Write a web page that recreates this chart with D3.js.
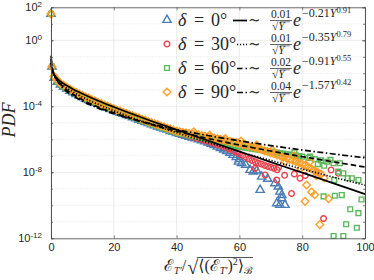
<!DOCTYPE html>
<html>
<head>
<meta charset="utf-8">
<script src="https://cdn.jsdelivr.net/npm/d3@7"></script>
<style>
body { margin: 0; background: #fff; }
svg text { fill: #262626; }
</style>
</head>
<body>
<svg id="chart" width="374" height="280"></svg>
<script>
// ---- data (PDF values stored as log10) ----
var xTicks = [0, 20, 40, 60, 80, 100];
var yTicks = [-12, -8, -4, 0, 2];
var angles = ["0°", "30°", "60°", "90°"];
var fitNum = ["0.01", "0.01", "0.02", "0.04"];
var fitB = ["−0.21", "−0.35", "−0.91", "−1.57"];
var fitC = ["0.91", "0.79", "0.55", "0.42"];

var fitX = [0.05, 0.2, 0.5, 1, 2, 3, 5, 7, 10, 15, 20, 30, 40, 50, 60, 70, 80, 90, 100];
var fit0 = [-1.36, -1.67, -1.90, -2.09, -2.32, -2.49, -2.74, -2.96, -3.24, -3.66, -4.04, -4.75, -5.42, -6.08, -6.74, -7.38, -8.02, -8.67, -9.32];
var fit30 = [-1.36, -1.69, -1.94, -2.15, -2.41, -2.60, -2.89, -3.13, -3.44, -3.88, -4.27, -4.97, -5.60, -6.19, -6.75, -7.28, -7.80, -8.30, -8.78];
var fit60 = [-1.13, -1.51, -1.82, -2.09, -2.43, -2.66, -3.01, -3.27, -3.60, -4.04, -4.40, -5.00, -5.51, -5.95, -6.35, -6.71, -7.05, -7.37, -7.68];
var fit90 = [-0.94, -1.40, -1.76, -2.08, -2.46, -2.72, -3.09, -3.36, -3.69, -4.11, -4.45, -4.98, -5.41, -5.77, -6.09, -6.38, -6.65, -6.89, -7.12];

var bandX = [0, 0.3, 1, 2, 3, 4, 5, 6, 7, 8, 9, 10, 11, 12, 13, 14, 15, 16, 17, 18, 19, 20,
  21, 22, 23, 24, 25, 26, 27, 28, 29, 30, 31, 32, 33, 34, 35, 36, 37, 38, 39, 40];
var blueBand = [1.6, -1.6, -2.28, -2.52, -2.69, -2.83, -2.94, -3.06, -3.16, -3.27, -3.35, -3.45,
  -3.53, -3.62, -3.70, -3.79, -3.86, -3.95, -4.02, -4.10, -4.17, -4.25, -4.31, -4.39, -4.46, -4.54,
  -4.60, -4.68, -4.74, -4.82, -4.88, -4.96, -5.02, -5.10, -5.15, -5.23, -5.29, -5.36, -5.42, -5.50, -5.55, -5.63];
var redBand = [1.6, -1.6, -2.23, -2.46, -2.63, -2.76, -2.88, -2.99, -3.10, -3.20, -3.29, -3.38,
  -3.47, -3.55, -3.64, -3.72, -3.80, -3.88, -3.96, -4.03, -4.11, -4.18, -4.25, -4.32, -4.40, -4.47,
  -4.54, -4.61, -4.68, -4.75, -4.82, -4.89, -4.96, -5.03, -5.09, -5.16, -5.23, -5.29, -5.36, -5.43, -5.49, -5.56];
var greenBand = [1.6, -1.6, -2.26, -2.49, -2.66, -2.79, -2.91, -3.02, -3.13, -3.23, -3.32, -3.41,
  -3.50, -3.58, -3.67, -3.75, -3.83, -3.91, -3.99, -4.06, -4.14, -4.21, -4.28, -4.35, -4.43, -4.50,
  -4.57, -4.64, -4.71, -4.78, -4.85, -4.92, -4.99, -5.06, -5.12, -5.19, -5.26, -5.32, -5.39, -5.46, -5.52, -5.59];
var orangeBand = [1.6, -1.6, -2.18, -2.42, -2.60, -2.71, -2.85, -2.95, -3.07, -3.15, -3.26, -3.33,
  -3.44, -3.50, -3.61, -3.67, -3.77, -3.83, -3.93, -3.98, -4.08, -4.13, -4.22, -4.27, -4.37, -4.42,
  -4.51, -4.56, -4.65, -4.70, -4.79, -4.84, -4.93, -4.98, -5.06, -5.11, -5.20, -5.24, -5.32, -5.37, -5.45, -5.50];

var blueTailX = [41, 42, 43, 44, 45, 46, 47, 48, 49, 50, 51, 52, 53, 54, 55, 56, 57, 58, 59, 60,
  59.7, 60.7, 62, 63.4, 64.4, 65.5, 67.1, 66.6, 69, 71.3, 72.4, 72.9, 71.9, 73.5, 72.9, 74.5, 73.5];
var blueTail = [-5.68, -5.74, -5.79, -5.85, -5.90, -5.95, -6.01, -6.07, -6.13, -6.20, -6.28, -6.36,
  -6.45, -6.53, -6.62, -6.72, -6.82, -6.95, -7.08, -7.20,
  -7.36, -7.45, -7.55, -7.86, -7.96, -7.90, -8.27, -9.07, -8.40, -8.67, -8.87, -9.18, -9.88, -9.58, -9.98, -9.98, -9.38];
var redTailX = [41, 42, 43, 44, 45, 46, 47, 48, 49, 50, 51, 52, 53, 54, 55, 56, 57, 58, 59, 60,
  61, 62, 63, 64, 65, 66, 67, 68, 69, 70, 71, 72,
  65, 68.2, 71.9, 72.5, 74.4, 76.6, 77.5, 79.3, 81, 84.5, 86.8, 89.2, 91.5];
var redTail = [-5.62, -5.68, -5.73, -5.79, -5.84, -5.90, -5.95, -6.01, -6.07, -6.13, -6.19, -6.25,
  -6.32, -6.38, -6.45, -6.52, -6.60, -6.68, -6.78, -6.88,
  -6.98, -7.08, -7.18, -7.28, -7.36, -7.44, -7.50, -7.58, -7.64, -7.70, -7.76, -7.84,
  -7.76, -8.16, -8.47, -7.70, -8.18, -9.28, -8.10, -8.36, -8.20, -8.00, -10.8, -7.86, -8.06];
var greenTailX = [41, 42, 43, 44, 45, 46, 47, 48, 49, 50, 51, 52, 53, 54, 55, 56, 57, 58, 59, 60,
  61, 62, 63, 64, 65, 66, 67, 68, 69, 70, 71, 72, 73, 74, 75, 76, 77, 78, 79, 80, 82, 84, 86, 88, 90,
  77.5, 78, 82.5, 85, 87, 89, 92, 91.5, 93.1, 94.5, 95.8, 97.9, 90.2, 86.8, 90.4, 92.6, 98.9,
  95.3, 97.9, 94.0, 97.4, 90, 93.1];
var greenTail = [-5.63, -5.67, -5.71, -5.75, -5.79, -5.83, -5.87, -5.91, -5.95, -5.99, -6.03, -6.07,
  -6.12, -6.16, -6.21, -6.26, -6.31, -6.36, -6.40, -6.45,
  -6.48, -6.51, -6.54, -6.57, -6.60, -6.63, -6.66, -6.69, -6.72, -6.75, -6.78, -6.81, -6.84, -6.87,
  -6.90, -6.93, -6.96, -6.99, -7.02, -7.05, -7.12, -7.20, -7.28, -7.36, -7.45,
  -6.80, -7.30, -7.05, -7.50, -7.60, -7.25, -7.45, -7.96, -8.06, -8.36, -8.36, -8.47, -8.47, -9.46,
  -9.42, -9.38, -9.65, -10.24, -10.48, -11.15, -11.36, -11.86, -11.86];
var orangeTailX = [41, 42, 43, 44, 45, 46, 47, 48, 49, 50, 51, 52, 53, 54, 55, 56, 57, 58, 59, 60,
  61, 62, 63, 64, 65, 66, 67, 68, 69, 70, 71, 72, 73, 74, 75, 76, 77, 78, 79, 80, 81, 82, 83, 84, 85,
  45.5, 50.5, 55.5, 60.5, 65.5, 70.5, 74.5, 77.5, 79.5, 82.5, 84.5, 86, 87,
  81.4, 80.9, 83, 84, 85.6, 88.4];
var orangeTail = [-5.54, -5.57, -5.61, -5.64, -5.67, -5.70, -5.73, -5.77, -5.80, -5.84, -5.88, -5.92,
  -5.96, -6.00, -6.04, -6.08, -6.12, -6.16, -6.20, -6.24,
  -6.30, -6.34, -6.40, -6.45, -6.50, -6.56, -6.62, -6.70, -6.75, -6.82, -6.88, -6.95, -7.00, -7.08,
  -7.15, -7.22, -7.28, -7.36, -7.42, -7.50, -7.58, -7.70, -7.80, -7.90, -8.00,
  -5.55, -5.75, -5.95, -6.10, -6.35, -6.65, -7.35, -7.00, -7.75, -7.35, -8.20, -8.10, -8.35,
  -8.77, -9.76, -9.20, -9.36, -11.17, -9.60];

// ---- layout ----
var svg = d3.select("#chart"),
    margin = {top: 7.3, right: 9, bottom: 41.7, left: 51},
    width = 374 - margin.left - margin.right,
    height = 280 - margin.top - margin.bottom;

var x = d3.scaleLinear().domain([0, 100]).range([0, width]);
var y = d3.scaleLog().domain([1e-12, 1e2]).range([height, 0]);
var p10 = function(v) { return Math.pow(10, v); };

var g = svg.append("g")
    .attr("transform", "translate(" + margin.left + "," + margin.top + ")");

var tickFont = "'Liberation Sans', Arial, sans-serif";
var mathFont = "'Liberation Serif', 'DejaVu Serif', serif";

// grid
var decades = d3.range(-12, 3);
g.append("g").selectAll("line")
  .data(decades.filter(function(d) { return yTicks.indexOf(d) < 0; }))
  .enter().append("line")
    .attr("x1", 0).attr("x2", width)
    .attr("y1", function(d) { return y(p10(d)); })
    .attr("y2", function(d) { return y(p10(d)); })
    .attr("stroke", "#dedede").attr("stroke-width", 0.6).attr("stroke-dasharray", "1.2,1.2");
g.append("g").selectAll("line")
  .data(yTicks)
  .enter().append("line")
    .attr("x1", 0).attr("x2", width)
    .attr("y1", function(d) { return y(p10(d)); })
    .attr("y2", function(d) { return y(p10(d)); })
    .attr("stroke", "#e4e4e4").attr("stroke-width", 0.7);
g.append("g").selectAll("line")
  .data(xTicks)
  .enter().append("line")
    .attr("x1", function(d) { return x(d); }).attr("x2", function(d) { return x(d); })
    .attr("y1", 0).attr("y2", height)
    .attr("stroke", "#e4e4e4").attr("stroke-width", 0.7);

// scatter
var diamond = {
  draw: function(ctx, size) {
    var r = Math.sqrt(size / 2);
    ctx.moveTo(0, -r); ctx.lineTo(r, 0); ctx.lineTo(0, r); ctx.lineTo(-r, 0); ctx.closePath();
  }
};

function pairs(xs, vs) { return xs.map(function(d, i) { return [d, vs[i]]; }); }

var series = [
  {pts: pairs(bandX, blueBand).concat(pairs(blueTailX, blueTail)), color: "#4a7db3", sym: d3.symbolTriangle, size: 30},
  {pts: pairs(bandX, redBand).concat(pairs(redTailX, redTail)), color: "#e8414e", sym: d3.symbolCircle, size: 25},
  {pts: pairs(bandX, greenBand).concat(pairs(greenTailX, greenTail)), color: "#5cb85c", sym: d3.symbolSquare, size: 23},
  {pts: pairs(bandX, orangeBand).concat(pairs(orangeTailX, orangeTail)), color: "#ff9f2a", sym: diamond, size: 29}
];

series.forEach(function(s) {
  g.append("g").selectAll("path")
    .data(s.pts)
    .enter().append("path")
      .attr("transform", function(d) { return "translate(" + x(d[0]) + "," + y(p10(d[1])) + ")"; })
      .attr("d", d3.symbol().type(s.sym).size(s.size))
      .attr("fill", "none")
      .attr("stroke", s.color)
      .attr("stroke-width", 1.4);
});

// fits
var dashes = ["none", "1.2,1.8", "5.5,3", "6,2.5,1.5,2.5"];
var fits = [fit0, fit30, fit60, fit90];
var line = d3.line()
    .x(function(d) { return x(d[0]); })
    .y(function(d) { return y(p10(d[1])); })
    .curve(d3.curveMonotoneX);

fits.forEach(function(f, i) {
  g.append("path")
    .datum(pairs(fitX, f))
    .attr("d", line)
    .attr("fill", "none")
    .attr("stroke", "#000")
    .attr("stroke-width", 1.7)
    .attr("stroke-dasharray", dashes[i]);
});

// axes
var axisColor = "#4d4d4d";
function styleAxis(sel) {
  sel.select(".domain").attr("stroke", axisColor).attr("stroke-width", 0.8);
  sel.selectAll(".tick line").attr("stroke", axisColor).attr("stroke-width", 0.7);
  sel.selectAll("text").style("font-family", tickFont).style("font-size", "11px").attr("fill", "#262626");
}

g.append("g")
    .attr("transform", "translate(0," + height + ")")
    .call(d3.axisBottom(x).tickValues(xTicks).tickSizeInner(-3).tickSizeOuter(0).tickPadding(5))
    .call(styleAxis);
g.append("g")
    .call(d3.axisTop(x).tickValues(xTicks).tickSizeInner(-3).tickSizeOuter(0).tickFormat(""))
    .call(styleAxis);

var yAxisG = g.append("g")
    .call(d3.axisLeft(y).tickValues(yTicks.map(p10)).tickSizeInner(-3).tickSizeOuter(0).tickPadding(9))
    .call(styleAxis);
yAxisG.selectAll(".tick text").each(function(d) {
  var t = d3.select(this).text("");
  t.append("tspan").text("10");
  t.append("tspan").attr("dy", "-0.5em").style("font-size", "8px").text(Math.round(Math.log10(d)));
});
g.append("g")
    .call(d3.axisLeft(y).tickValues(decades.map(p10)).tickSizeInner(-2).tickSizeOuter(0).tickFormat(""))
    .call(styleAxis);
g.append("g")
    .attr("transform", "translate(" + width + ",0)")
    .call(d3.axisRight(y).tickValues(decades.map(p10)).tickSizeInner(-2).tickSizeOuter(0).tickFormat(""))
    .call(styleAxis);
g.append("g")
    .attr("transform", "translate(" + width + ",0)")
    .call(d3.axisRight(y).tickValues(yTicks.map(p10)).tickSizeInner(-3).tickSizeOuter(0).tickFormat(""))
    .call(styleAxis);

// legend
var legend = svg.append("g");
var sampleStart = [233, 237, 237, 237];
series.forEach(function(s, i) {
  var b = 26 + 24 * i;
  legend.append("path")
    .attr("transform", "translate(167," + (b - 6) + ")")
    .attr("d", d3.symbol().type(s.sym).size(s.size))
    .attr("fill", "none").attr("stroke", s.color).attr("stroke-width", 1.4);

  var t = legend.append("text").attr("y", b).style("font-family", mathFont).style("font-size", "18px");
  t.append("tspan").attr("x", 178).style("font-style", "italic").text("δ");
  t.append("tspan").attr("x", 194).text("=");
  t.append("tspan").attr("x", 211).text(angles[i]);

  legend.append("line")
    .attr("x1", sampleStart[i]).attr("x2", 247)
    .attr("y1", b - 5.5).attr("y2", b - 5.5)
    .attr("stroke", "#000").attr("stroke-width", 1.7)
    .attr("stroke-dasharray", dashes[i]);

  legend.append("text").attr("x", 248).attr("y", b - 1)
    .style("font-family", mathFont).style("font-size", "15px").text("∼");

  legend.append("text").attr("x", 281).attr("y", b - 8.5).attr("text-anchor", "middle")
    .style("font-family", mathFont).style("font-size", "11.5px").text(fitNum[i]);
  legend.append("line")
    .attr("x1", 270).attr("x2", 292).attr("y1", b - 5.5).attr("y2", b - 5.5)
    .attr("stroke", "#262626").attr("stroke-width", 0.7);
  var den = legend.append("text").attr("x", 272).attr("y", b + 4)
    .style("font-family", mathFont).style("font-size", "11.5px");
  den.append("tspan").text("√");
  den.append("tspan").style("font-style", "italic").text("Y");
  legend.append("line")
    .attr("x1", 280).attr("x2", 290).attr("y1", b - 4.2).attr("y2", b - 4.2)
    .attr("stroke", "#262626").attr("stroke-width", 0.6);

  legend.append("text").attr("x", 293).attr("y", b)
    .style("font-family", mathFont).style("font-size", "18px").style("font-style", "italic").text("e");

  var sup = legend.append("text").attr("x", 302).attr("y", b - 9.5)
    .style("font-family", mathFont).style("font-size", "12px");
  sup.append("tspan").text(fitB[i]);
  sup.append("tspan").style("font-style", "italic").text("Y");
  sup.append("tspan").attr("dy", -4).style("font-size", "8.5px").text(fitC[i]);
});

// y label
svg.append("text")
    .attr("transform", "translate(15,120) rotate(-90)")
    .attr("text-anchor", "middle")
    .style("font-family", mathFont).style("font-size", "18px").style("font-style", "italic")
    .text("PDF");

// x label: E_T' / sqrt(<(E_T')^2>_B)
var base = 271;
var xl = svg.append("g");
var t1 = xl.append("text").attr("x", 0).attr("y", base)
    .style("font-family", mathFont).style("font-size", "16px");
t1.append("tspan").text("ℰ");
t1.append("tspan").attr("dy", 3).style("font-size", "10px").style("font-style", "italic").text("T′");
t1.append("tspan").attr("dy", -3).text("/");
var w1 = t1.node().getComputedTextLength();
var sq = xl.append("text").attr("x", w1 + 1).attr("y", base + 3)
    .style("font-family", mathFont).style("font-size", "20px").text("√");
var w2 = sq.node().getComputedTextLength();
var r0 = w1 + 1 + w2;
var t2 = xl.append("text").attr("x", r0).attr("y", base)
    .style("font-family", mathFont).style("font-size", "16px");
t2.append("tspan").text("⟨(ℰ");
t2.append("tspan").attr("dy", 3).style("font-size", "10px").style("font-style", "italic").text("T′");
t2.append("tspan").attr("dy", -3).text(")");
t2.append("tspan").attr("dy", -6).style("font-size", "10px").text("2");
t2.append("tspan").attr("dy", 6).text("⟩");
t2.append("tspan").attr("dy", 3).style("font-size", "10px").text("ℬ");
var w3 = t2.node().getComputedTextLength();
xl.append("line")
    .attr("x1", r0 - 1).attr("x2", r0 + w3 + 1)
    .attr("y1", base - 13.5).attr("y2", base - 13.5)
    .attr("stroke", "#262626").attr("stroke-width", 0.8);
var total = r0 + w3;
xl.attr("transform", "translate(" + (margin.left + width / 2 - total / 2) + ",0)");
</script>
</body>
</html>
